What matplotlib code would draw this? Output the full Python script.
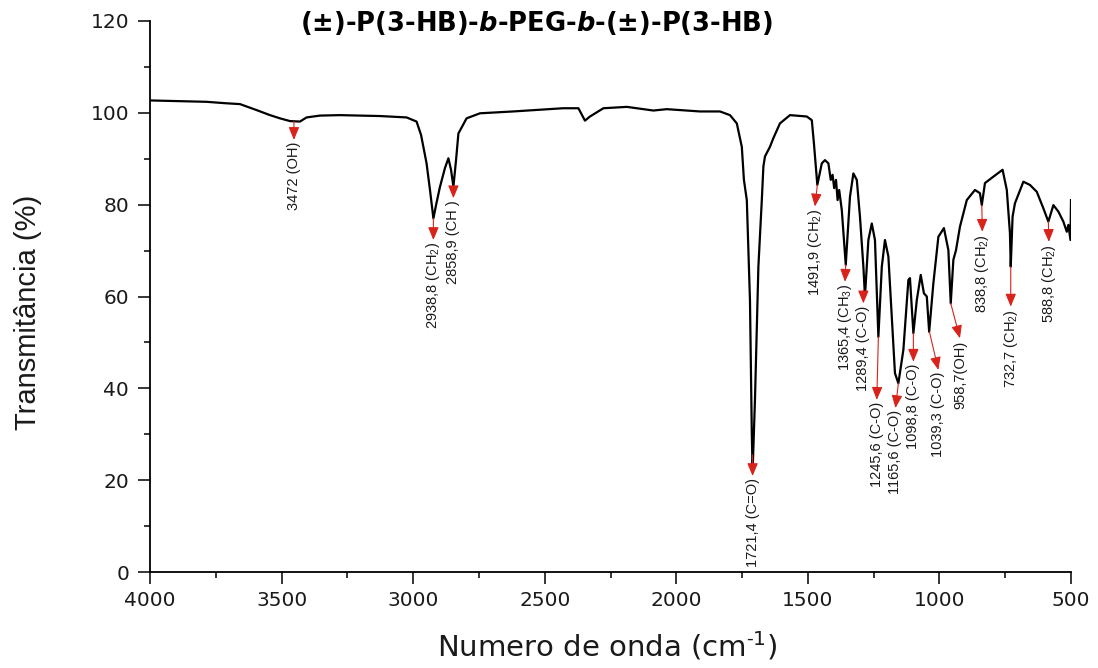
import matplotlib
matplotlib.use("Agg")
import matplotlib.pyplot as plt
from matplotlib.ticker import MultipleLocator

plt.rcParams['mathtext.fontset'] = 'custom'
plt.rcParams['mathtext.it'] = 'DejaVu Sans:italic:bold'
plt.rcParams['mathtext.rm'] = 'Liberation Sans'
plt.rcParams['mathtext.default'] = 'regular'

# FTIR spectrum (cm-1, %T)
wavenumber = [4000, 3924, 3785, 3715, 3658, 3595, 3544, 3506, 3468, 3430,
              3405, 3354, 3278, 3126, 3025, 2987, 2970, 2949, 2936, 2923,
              2913, 2898, 2879, 2866, 2856, 2847, 2837, 2828, 2797, 2746,
              2620, 2430, 2372, 2347, 2328, 2277, 2188, 2087, 2036, 1910,
              1834, 1796, 1770, 1751, 1743, 1732, 1720, 1713, 1710, 1701,
              1688, 1675, 1669, 1663, 1644, 1631, 1606, 1568, 1504, 1485,
              1477, 1464, 1447, 1435, 1422, 1413, 1406, 1400, 1393, 1387,
              1381, 1371, 1356, 1340, 1327, 1314, 1302, 1289, 1283, 1270,
              1257, 1245, 1232, 1219, 1207, 1194, 1181, 1169, 1156, 1137,
              1118, 1112, 1099, 1086, 1071, 1059, 1048, 1039, 1023, 1004,
              983, 966, 957, 947, 937, 922, 896, 865, 846, 839,
              827, 795, 760, 744, 732, 729, 722, 713, 681, 656,
              630, 605, 586, 567, 548, 529, 516, 510, 502, 500]
transmittance = [102.7, 102.6, 102.4, 102.1, 101.9, 100.6, 99.5, 98.8, 98.2, 98.1,
                 99.0, 99.4, 99.5, 99.3, 99.0, 98.1, 95.2, 89.0, 83.2, 77.0,
                 79.9, 83.9, 88.0, 90.1, 87.6, 83.9, 89.7, 95.5, 98.8, 99.9,
                 100.3, 101.0, 101.0, 98.3, 99.2, 101.0, 101.3, 100.5, 100.8, 100.3,
                 100.3, 99.5, 97.7, 92.6, 85.4, 81.0, 59.2, 30.2, 21.8, 37.5,
                 66.5, 81.0, 88.3, 90.5, 92.6, 94.5, 97.7, 99.5, 99.2, 98.4,
                 93.4, 84.3, 89.0, 89.7, 89.0, 85.4, 86.5, 83.6, 85.4, 81.0,
                 83.2, 78.8, 66.9, 81.7, 86.8, 85.4, 77.4, 66.5, 60.0, 72.3,
                 75.9, 72.3, 51.2, 66.5, 72.3, 68.7, 55.6, 43.3, 41.1, 48.4,
                 63.6, 64.0, 52.0, 59.2, 64.7, 60.7, 60.0, 52.3, 62.9, 73.0,
                 74.9, 70.1, 58.5, 68.0, 70.1, 75.2, 81.0, 83.2, 82.5, 79.9,
                 84.7, 86.1, 87.6, 83.2, 73.8, 66.5, 77.4, 80.3, 85.0, 84.3,
                 82.8, 79.2, 76.3, 79.9, 78.5, 76.3, 74.1, 75.6, 72.3, 81.0]

# band assignments: label, arrow start (on the curve) and arrow tip
peak_labels = ['3472 (OH)', '2938,8 (CH$_2$)', '2858,9 (CH )', '1721,4 (C=O)',
               '1491,9 (CH$_2$)', '1365,4 (CH$_3$)', '1289,4 (C-O)', '1245,6 (C-O)',
               '1165,6 (C-O)', '1098,8 (C-O)', '1039,3 (C-O)', '958,7(OH)',
               '838,8 (CH$_2$)', '732,7 (CH$_2$)', '588,8 (CH$_2$)']
peak_x = [3453, 2923, 2847, 1710, 1464, 1356, 1289, 1232, 1156, 1099, 1038, 957, 839, 729, 586]
peak_y = [98.1, 77.0, 83.9, 25.5, 84.3, 66.9, 61.4, 51.2, 41.1, 52.0, 52.3, 58.5, 79.9, 66.5, 76.3]
tip_x = [3453, 2923, 2847, 1710, 1473, 1359, 1289, 1238, 1167, 1099, 1004, 922, 837, 729, 584]
tip_y = [94.1, 72.3, 81.4, 20.9, 79.6, 63.2, 58.5, 37.5, 35.7, 45.8, 44.0, 50.9, 74.1, 57.8, 71.9]

red = '#d8231b'

fig = plt.figure(figsize=(10.98, 6.68), dpi=100)
ax = fig.add_axes([150 / 1098, 96 / 668, 921 / 1098, 551 / 668])

ax.plot(wavenumber, transmittance, color='black', lw=1.6)

for lab, x0, y0, x1, y1 in zip(peak_labels, peak_x, peak_y, tip_x, tip_y):
    ax.annotate('', xy=(x1, y1), xytext=(x0, y0),
                arrowprops=dict(arrowstyle='-|>,head_length=0.65,head_width=0.27',
                                color=red, lw=0.8, mutation_scale=12,
                                shrinkA=0, shrinkB=0))
    ax.annotate(lab, xy=(x1, y1), xytext=(0, -1.5), textcoords='offset points',
                rotation=90, ha='center', va='top', fontsize=10.5,
                family='Liberation Sans', color='#1a1a1a')

ax.set_xlim(4000, 500)
ax.set_ylim(0, 120)
ax.xaxis.set_major_locator(MultipleLocator(500))
ax.xaxis.set_minor_locator(MultipleLocator(250))
ax.yaxis.set_major_locator(MultipleLocator(20))
ax.yaxis.set_minor_locator(MultipleLocator(10))

for s in ['top', 'right']:
    ax.spines[s].set_visible(False)
for s in ['left', 'bottom']:
    ax.spines[s].set_linewidth(1.3)

ax.tick_params(which='major', length=8.6, width=1.1, labelsize=14.5, pad=5)
ax.tick_params(which='minor', length=4.5, width=1.1)
ax.tick_params(axis='y', which='major', pad=6.5)
for t in ax.get_xticklabels() + ax.get_yticklabels():
    t.set_family('DejaVu Sans')
    t.set_color('#1a1a1a')

fig.text(607 / 1098, 1 - 657 / 668, 'Numero de onda (cm$^{\\text{-}1}$)', ha='center',
         va='baseline', fontsize=21, family='DejaVu Sans', color='#1a1a1a')
fig.text(28 / 1098, 1 - 312 / 668, 'Transmitância (%)', rotation=90, ha='center',
         va='center', fontsize=21, family='Liberation Sans', color='#1a1a1a')
fig.text(536 / 1098, 1 - 23 / 668, '(±)-P(3-HB)-$\\it{b}$-PEG-$\\it{b}$-(±)-P(3-HB)',
         ha='center', va='center', fontsize=18.5, fontweight='bold',
         family='DejaVu Sans', color='black')

fig.savefig('out.png', dpi=100)
